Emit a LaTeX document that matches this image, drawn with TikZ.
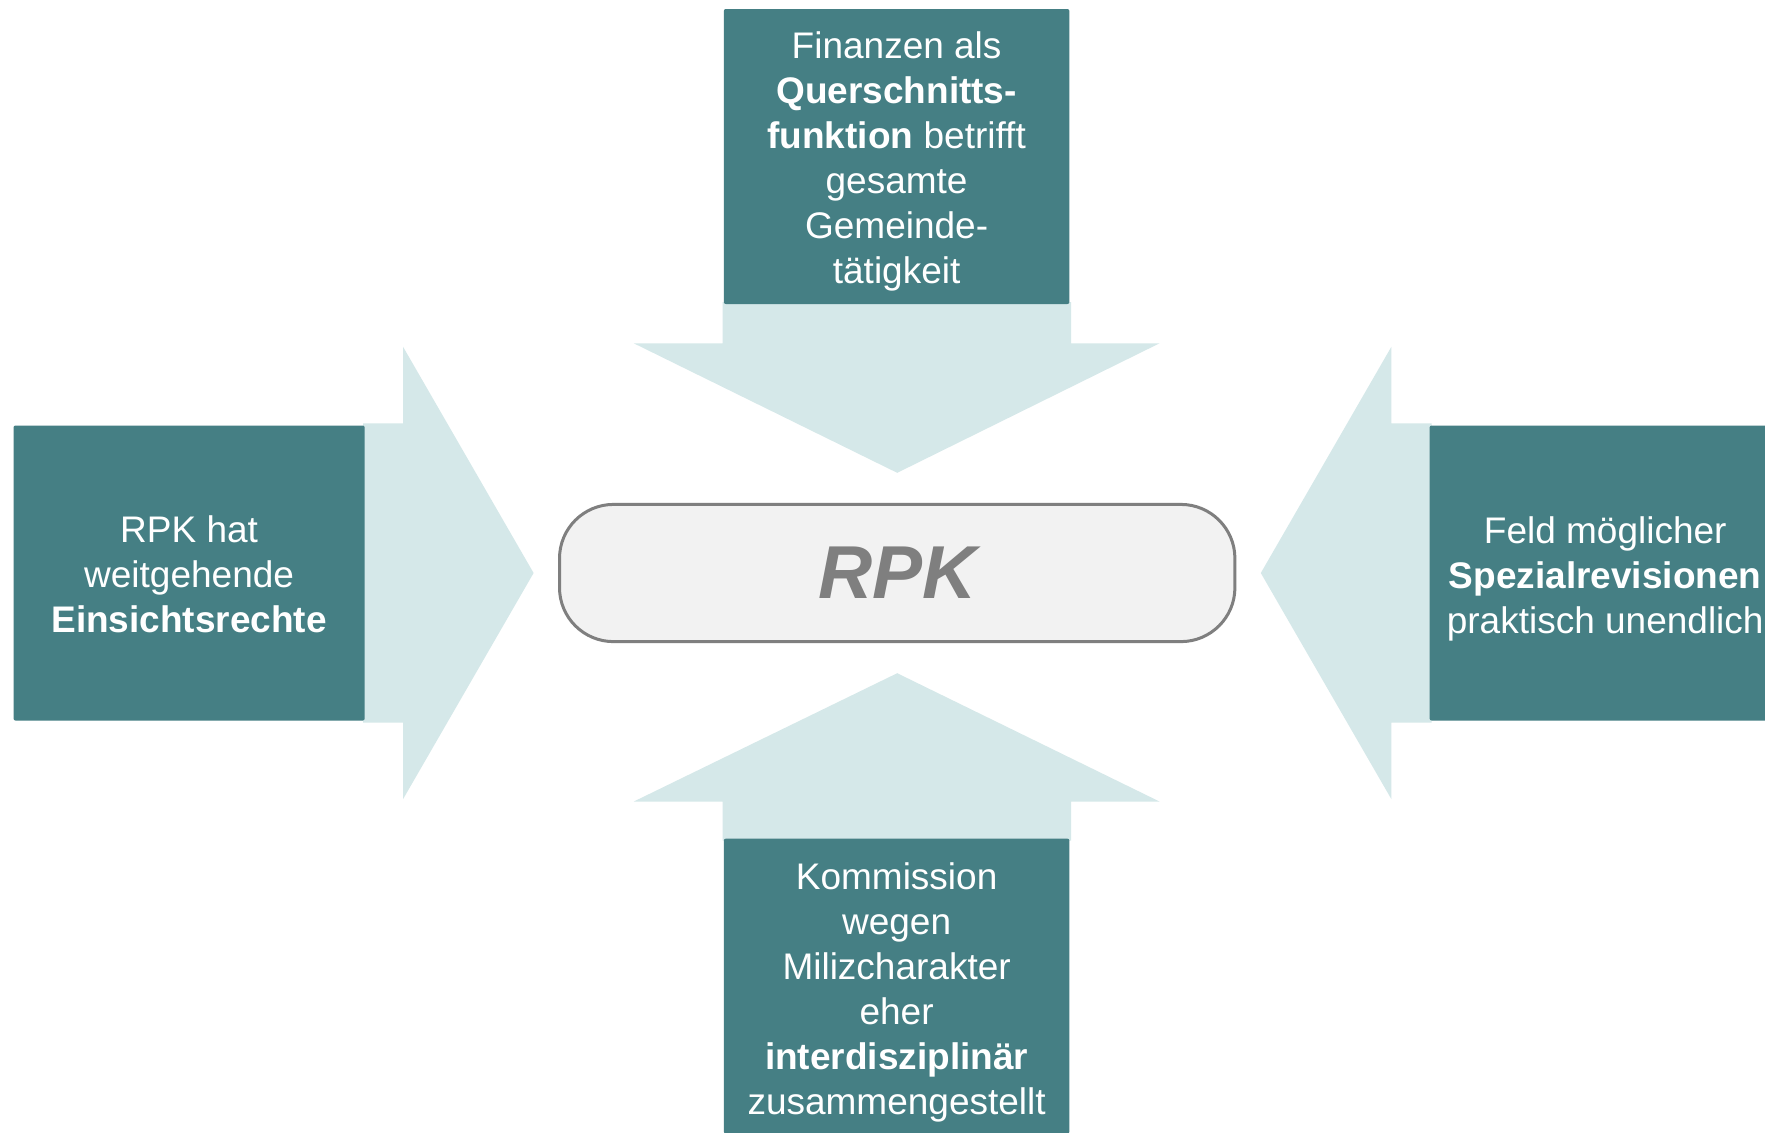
\documentclass[tikz,border=0pt]{standalone}
\usepackage{fontspec}
\setmainfont{Liberation Sans}
\definecolor{boxteal}{HTML}{457F84}
\definecolor{arrowlight}{HTML}{D5E8E9}
\definecolor{pillfill}{HTML}{F2F2F2}
\definecolor{pillgray}{HTML}{7F7F7F}
\begin{document}
\begin{tikzpicture}[x=0.5pt,y=-0.5pt,
  tbox/.style={fill=boxteal, draw=none, rounded corners=1pt, inner sep=0pt},
  vbox/.style={tbox, minimum width=172.8pt, minimum height=147.5pt},
  hbox/.style={tbox, minimum width=175.6pt, minimum height=147.5pt},
  boxtext/.style={text=white, align=center, inner sep=0pt,
    font=\fontsize{18.5}{22.5}\selectfont},
  blockarrow/.style={fill=arrowlight, draw=none},
  pill/.style={fill=pillfill, draw=pillgray, line width=1.5pt, rounded corners=27pt,
    minimum width=337.7pt, minimum height=68.6pt, text=pillgray,
    font=\fontsize{37.5}{40}\selectfont\bfseries\itshape}]
\useasboundingbox (0,0) rectangle (1765,1132);
\clip (0,0) rectangle (1765,1132);
\fill[white] (0,0) rectangle (1765,1132);

% block arrows (shafts start at the box edges)
\fill[blockarrow] (722.5,302) -- (1071,302) -- (1071,343.3) -- (1159.5,343.3)
  -- (897.2,472.8) -- (633.8,343.3) -- (722.5,343.3) -- cycle;
\fill[blockarrow] (722.5,840.5) -- (1071,840.5) -- (1071,801.5) -- (1159.5,801.5)
  -- (897.2,673.2) -- (633.8,801.5) -- (722.5,801.5) -- cycle;
\fill[blockarrow] (363,423.3) -- (403,423.3) -- (403,346.7) -- (533.6,573)
  -- (403,799.2) -- (403,722.7) -- (363,722.7) -- cycle;
\fill[blockarrow] (1431.5,423.3) -- (1391.4,423.3) -- (1391.4,346.7) -- (1260.8,573)
  -- (1391.4,799.2) -- (1391.4,722.7) -- (1431.5,722.7) -- cycle;

% boxes
\node[vbox] (top) at (896.6,156.5) {};
\node[vbox] (bottom) at (896.6,986.1) {};
\node[hbox] (left) at (189.1,573) {};
\node[hbox] (right) at (1605.2,573) {};

% texts
\node[boxtext, yshift=-2.3pt] (toptext) at (top.center)
  {Finanzen als\\\textbf{Querschnitts-}\\\textbf{funktion} betrifft\\gesamte\\Gemeinde-\\tätigkeit};
\node[boxtext, yshift=-3.2pt] (bottomtext) at (bottom.center)
  {Kommission\\wegen\\Milizcharakter\\eher\\\textbf{interdisziplinär}\\zusammengestellt};
\node[boxtext, yshift=-0.6pt] (lefttext) at (left.center)
  {RPK hat\\weitgehende\\\textbf{Einsichtsrechte}};
\node[boxtext, yshift=-2.8pt] (righttext) at (right.center)
  {Feld möglicher\\\textbf{Spezialrevisionen}\\praktisch unendlich};

% centre
\node[pill] (rpk) at (897.2,573) {RPK};
\end{tikzpicture}
\end{document}
